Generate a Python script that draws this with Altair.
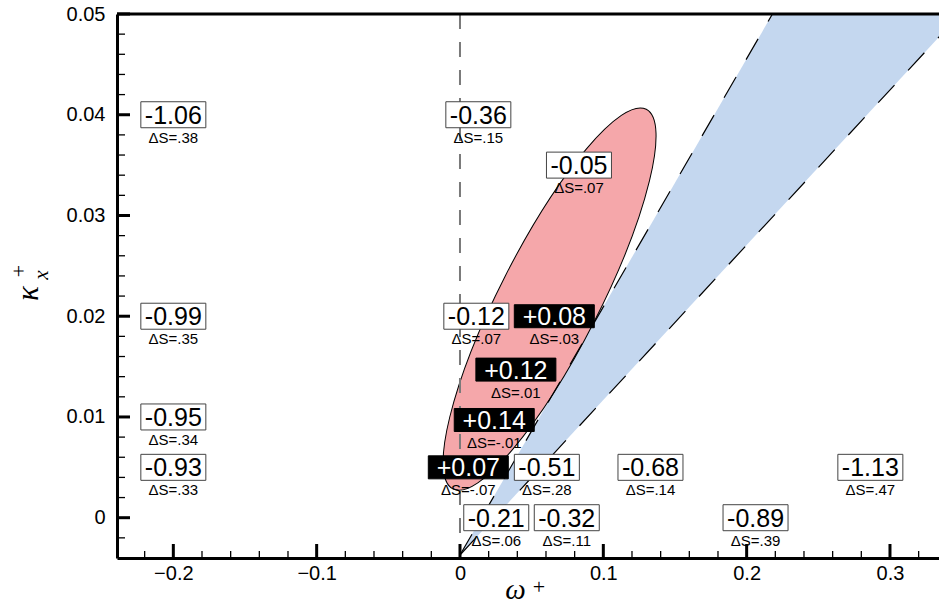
import altair as alt
import pandas as pd

# Plot window (omega+, kappa_x+)
OMEGA_DOMAIN = [-0.2393, 0.3342]
KAPPA_DOMAIN = [-0.004, 0.05]
W, H = 822, 544

# Axis ticks
x_major = [-0.2, -0.1, 0.0, 0.1, 0.2, 0.3]
x_minor = [-0.22, -0.18, -0.16, -0.14, -0.12, -0.08, -0.06, -0.04, -0.02,
           0.02, 0.04, 0.06, 0.08, 0.12, 0.14, 0.16, 0.18, 0.22, 0.24,
           0.26, 0.28, 0.32]
y_major = [0.0, 0.01, 0.02, 0.03, 0.04, 0.05]
y_minor = [-0.002, 0.002, 0.004, 0.006, 0.008, 0.012, 0.014, 0.016, 0.018,
           0.022, 0.024, 0.026, 0.028, 0.032, 0.034, 0.036, 0.038, 0.042,
           0.044, 0.046, 0.048]

# Annotated cases: location, change value and entropy change
case_omega = [-0.2, -0.2, -0.2, -0.2, 0.0128, 0.083, 0.0114, 0.0658,
              0.039, 0.0239, 0.0058, 0.0606, 0.0253, 0.0745, 0.1329,
              0.2863, 0.2062]
case_kappa = [0.04, 0.02, 0.01, 0.005, 0.04, 0.035, 0.02, 0.02,
              0.0147, 0.0097, 0.005, 0.005, 0.0, 0.0, 0.005,
              0.005, 0.0]
case_value = ["-1.06", "-0.99", "-0.95", "-0.93", "-0.36", "-0.05", "-0.12",
              "+0.08", "+0.12", "+0.14", "+0.07", "-0.51", "-0.21", "-0.32",
              "-0.68", "-1.13", "-0.89"]
case_dS = ["ΔS=.38", "ΔS=.35", "ΔS=.34", "ΔS=.33", "ΔS=.15", "ΔS=.07",
           "ΔS=.07", "ΔS=.03", "ΔS=.01", "ΔS=-.01", "ΔS=-.07", "ΔS=.28",
           "ΔS=.06", "ΔS=.11", "ΔS=.14", "ΔS=.47", "ΔS=.39"]

# Stable (blue) wedge bounded by two dashed lines from the tip
wedge_kappa = [-0.0037, 0.05]
wedge_left = [0.0, 0.218]
wedge_right = [0.0, 0.349]

# Tilted elliptical (red) region
ellipse_omega = [0.0625]
ellipse_kappa = [0.0217]

PINK = "#f5a7aa"
BLUE = "#c4d7ef"
SANS = "Liberation Sans"
SERIF = "Liberation Serif"

xs = alt.Scale(domain=OMEGA_DOMAIN, nice=False, zero=False)
ys = alt.Scale(domain=KAPPA_DOMAIN, nice=False, zero=False)

x_axis = alt.Axis(
    values=x_major, ticks=False, tickSize=0, grid=False,
    domainColor="black", domainWidth=3,
    labelFont=SANS, labelFontSize=20, labelColor="black", labelPadding=5,
    labelExpr="datum.value == 0 ? '0' : format(datum.value, '.1~f')",
    title="ω", titleFont=SERIF, titleFontStyle="italic", titleFontWeight="normal",
    titleFontSize=29, titleColor="black", titleBaseline="alphabetic",
    titleAlign="center", titleX=398, titleY=40,
)
y_axis = alt.Axis(
    values=y_major, ticks=False, tickSize=0, grid=False,
    domainColor="black", domainWidth=3,
    labelFont=SANS, labelFontSize=20, labelColor="black", labelPadding=12,
    labelExpr="datum.value == 0 ? '0' : format(datum.value, '.2f')",
    title="κ", titleFont=SERIF, titleFontStyle="italic", titleFontWeight="normal",
    titleFontSize=31, titleColor="black", titleBaseline="alphabetic",
    titleAngle=270, titleX=-80, titleY=279, titleAlign="center",
)


def X(field):
    return alt.X(field, type="quantitative", scale=xs, axis=x_axis)


def Y(field):
    return alt.Y(field, type="quantitative", scale=ys, axis=y_axis)


cases = pd.DataFrame({"w": case_omega, "k": case_kappa,
                      "val": case_value, "ds": case_dS})
cases["gain"] = cases["val"].str.startswith("+")
neg = cases[~cases["gain"]]
pos = cases[cases["gain"]]

# Wedge
wedge_df = pd.DataFrame({"k": wedge_kappa, "w": wedge_left, "w2": wedge_right})
wedge = alt.Chart(wedge_df).mark_area(
    orient="horizontal", color=BLUE, opacity=1, clip=True
).encode(y=Y("k"), x=X("w"), x2="w2:Q")

edge_rows = []
for side, col in (("left", wedge_left), ("right", wedge_right)):
    for kv, wv in zip(wedge_kappa, col):
        edge_rows.append({"side": side, "k": kv, "w": wv})
edges = alt.Chart(pd.DataFrame(edge_rows)).mark_line(
    color="black", strokeWidth=1.2, strokeDash=[24, 20], clip=True
).encode(x=X("w"), y=Y("k"), detail="side:N")

# Ellipse drawn as one symbol with a Bezier ellipse outline
A = 213.0   # semi-major axis, px
B = 50.0    # semi-minor axis, px
r = B / A
c = 0.5523
cr = c * r
ellipse_path = (
    f"M1,0C1,{cr:.4f} {c},{r:.4f} 0,{r:.4f}"
    f"C-{c},{r:.4f} -1,{cr:.4f} -1,0"
    f"C-1,-{cr:.4f} -{c},-{r:.4f} 0,-{r:.4f}"
    f"C{c},-{r:.4f} 1,-{cr:.4f} 1,0Z"
)
ellipse = alt.Chart(pd.DataFrame({"w": ellipse_omega, "k": ellipse_kappa})).mark_point(
    shape=ellipse_path, size=(2 * A) ** 2, angle=117, filled=True,
    fill=PINK, stroke="black", strokeWidth=1, opacity=1, fillOpacity=1,
    strokeOpacity=1,
).encode(x=X("w"), y=Y("k"))

# Vertical reference line at omega = 0
zero_line = alt.Chart(pd.DataFrame({"w": [0.0]})).mark_rule(
    color="#7a7a7a", strokeWidth=2, strokeDash=[15, 13]
).encode(x=X("w"))


# Inward tick marks
def yticks(vals, length, width):
    return alt.Chart(pd.DataFrame({"k": vals})).mark_rule(
        color="black", strokeWidth=width
    ).encode(y=Y("k"), x=alt.value(0), x2=alt.value(length))


def xticks(vals, length, width):
    return alt.Chart(pd.DataFrame({"w": vals})).mark_rule(
        color="black", strokeWidth=width
    ).encode(x=X("w"), y=alt.value(H - length), y2=alt.value(H))


top_line = alt.Chart(pd.DataFrame({"k": [KAPPA_DOMAIN[1]]})).mark_rule(
    color="black", strokeWidth=3
).encode(y=Y("k"))


# Boxed labels
def box_layer(df, wpx, hpx, fill, stroke):
    rr = hpx / wpx
    path = f"M-1,-{rr:.4f}L1,-{rr:.4f}L1,{rr:.4f}L-1,{rr:.4f}Z"
    return alt.Chart(df).mark_point(
        shape=path, size=wpx ** 2, filled=True, fill=fill, stroke=stroke,
        strokeWidth=1, opacity=1, fillOpacity=1, strokeOpacity=1,
    ).encode(x=X("w"), y=Y("k"))


def value_text(df, color):
    return alt.Chart(df).mark_text(
        font=SANS, fontSize=25, color=color, align="center",
        baseline="middle", dy=1,
    ).encode(x=X("w"), y=Y("k"), text="val:N")


ds_text = alt.Chart(cases).mark_text(
    font=SANS, fontSize=15, color="black", align="center",
    baseline="alphabetic", dy=28,
).encode(x=X("w"), y=Y("k"), text="ds:N")


# Super/subscripts of the axis titles
def script(txt, px, py, size, angle, italic):
    return alt.Chart(pd.DataFrame({"t": [txt]})).mark_text(
        font=SERIF, fontSize=size, angle=angle, align="center",
        baseline="middle", color="black",
        fontStyle="italic" if italic else "normal",
    ).encode(x=alt.value(px), y=alt.value(py), text="t:N")


chart = alt.layer(
    wedge,
    ellipse,
    edges,
    zero_line,
    yticks(y_minor, 8, 1.3),
    yticks(y_major, 13, 3),
    xticks(x_minor, 7, 1.3),
    xticks(x_major, 14, 3),
    top_line,
    ds_text,
    box_layer(neg, 65, 26, "white", "#444444"),
    box_layer(pos, 80, 23, "black", "black"),
    value_text(neg, "black"),
    value_text(pos, "white"),
    script("+", 422, 573, 22, 0, False),
    script("+", -98, 257, 22, 270, False),
    script("x", -75, 261, 21, 270, True),
).properties(
    width=W, height=H,
    padding={"left": 117, "top": 14, "right": 0, "bottom": 49},
    autosize=alt.AutoSizeParams(type="none"),
    background="white",
).configure_view(strokeWidth=0)

chart.save("out.html", embed_options={"renderer": "svg", "actions": False})
